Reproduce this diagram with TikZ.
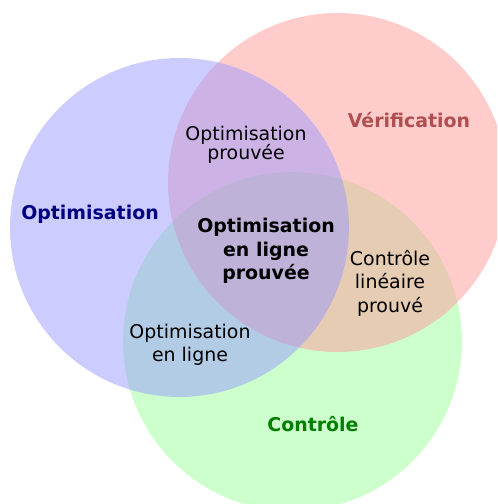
\documentclass[tikz,border=0pt]{standalone}
\usepackage{fontspec}
\setmainfont{DejaVu Sans}
\definecolor{setblue}{HTML}{9999FF}
\definecolor{setred}{HTML}{FF9999}
\definecolor{setgreen}{HTML}{99FF99}
\definecolor{optlabel}{HTML}{000080}
\definecolor{verlabel}{HTML}{B04F4F}
\definecolor{ctllabel}{HTML}{007F00}
\begin{document}
\begin{tikzpicture}[x=0.75pt,y=-0.75pt,
  setdisc/.style={fill opacity=0.5, draw=none},
  plain/.style={align=center, inner sep=0pt, font=\fontsize{14.2}{14.6}\selectfont},
  plainwide/.style={align=center, inner sep=0pt, font=\fontsize{14.2}{17.6}\selectfont},
  strong/.style={align=center, inner sep=0pt, font=\fontsize{14.2}{17.6}\selectfont\bfseries},
  setname/.style={inner sep=0pt, font=\fontsize{14.2}{17}\selectfont\bfseries}]
\useasboundingbox (0,0) rectangle (497,504);
\clip (0,0) rectangle (497,504);
% the three sets
\fill[setdisc, setgreen] (292.5,341.5) circle[radius=127.1pt];
\fill[setdisc, setred] (337.5,182.5) circle[radius=127.1pt];
\fill[setdisc, setblue] (179.5,227.5) circle[radius=127.1pt];
% set names
\node[setname, text=optlabel] (opt) at (90,214) {Optimisation};
\node[setname, text=verlabel] (ver) at (409,120) {Vérification};
\node[setname, text=ctllabel] (ctl) at (313,424) {Contrôle};
% intersections
\node[plain] (optver) at (246,145) {Optimisation\\prouvée};
\node[plainwide] (optctl) at (190,345) {Optimisation\\en ligne};
\node[plainwide] (verctl) at (390,283) {Contrôle\\linéaire\\prouvé};
\node[strong] (all) at (266,251) {Optimisation\\en ligne\\prouvée};
\end{tikzpicture}
\end{document}
